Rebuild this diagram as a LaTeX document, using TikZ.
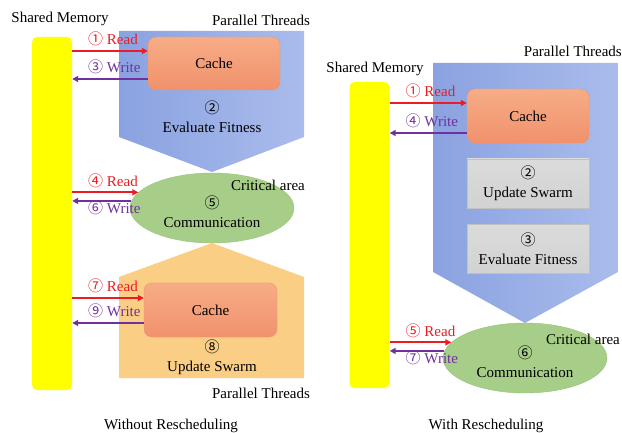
\documentclass[tikz,border=0pt]{standalone}
\usepackage{fontspec}
\setmainfont{Liberation Serif}
\newfontfamily\numfont{Noto Sans CJK SC}
\usetikzlibrary{positioning,shapes.geometric,arrows.meta}
\definecolor{myred}{RGB}{235,28,36}
\definecolor{mypurple}{RGB}{112,48,160}
\definecolor{myyellow}{RGB}{255,255,0}
\definecolor{myblue}{RGB}{138,162,224}
\definecolor{mybluelight}{RGB}{170,188,236}
\definecolor{myorange}{RGB}{250,206,132}
\definecolor{mycache}{RGB}{247,172,135}
\definecolor{mycachedark}{RGB}{240,146,108}
\definecolor{mygreen}{RGB}{166,206,136}
\definecolor{mygreendark}{RGB}{150,195,120}
\definecolor{mygray}{RGB}{210,210,210}
\newcommand{\cn}[1]{{\numfont\fontsize{15}{17}\selectfont #1}}

\tikzset{
  lbl/.style={font=\fontsize{15}{19}\selectfont, align=center, inner sep=0pt},
  memory/.style={fill=myyellow, rounded corners=5pt, minimum width=40pt, inner sep=0pt},
  cache/.style={lbl, rounded corners=8pt, draw=mycachedark, top color=mycache, bottom color=mycachedark, minimum width=132pt, minimum height=53pt},
  task/.style={lbl, draw=mygray!92!black, top color=mygray!80!white, bottom color=mygray, minimum width=122pt, minimum height=49pt},
  comm/.style={ellipse, fill=mygreen, draw=mygreendark, minimum width=164pt, minimum height=70pt, inner sep=0pt},
  rd/.style={myred, line width=2pt, -{Triangle[length=6pt,width=6pt]}},
  wr/.style={mypurple, line width=2pt, {Triangle[length=6pt,width=6pt]}-},
  tagup/.style={lbl, anchor=west, xshift=15pt, yshift=12pt},
  tagdn/.style={lbl, anchor=west, xshift=15pt, yshift=-7pt}
}

\begin{document}
\begin{tikzpicture}[x=1pt, y=-1pt]
  \useasboundingbox (0,0) rectangle (622,433);

  % left: without rescheduling
  \shade[left color=myblue, right color=mybluelight] (119,31) -- (304,31) -- (304,137) -- (212,172) -- (119,137) -- cycle;
  \fill[myorange] (212,243) -- (304,277) -- (304,378) -- (119,378) -- (119,277) -- cycle;
  \node[memory, minimum height=353pt] (mem1) at (52,213.5) {};
  \node[lbl] (sm1) at (60,19) {Shared Memory};
  \node[lbl] (pt1) at (261,20) {Parallel Threads};
  \node[lbl] (pt2) at (261,393) {Parallel Threads};
  \node[cache] (cache1) at (214,63.5) {Cache};
  \node[lbl] (ev1) at (212,117) {\cn{②}\\Evaluate Fitness};
  \node[comm] (comm1) at (212,208) {};
  \node[lbl] (comm1t) at (212,212) {\cn{⑤}\\Communication};
  \node[lbl] (crit1) at (268,185) {Critical area};
  \node[cache, minimum width=133pt, minimum height=54pt] (cache2) at (210.5,310) {Cache};
  \node[lbl] (up1) at (212,357) {\cn{⑧}\\Update Swarm};
  \node[lbl] (title1) at (171,426) {Without Rescheduling};

  \coordinate (r1) at ([yshift=12.5pt]cache1.west);
  \coordinate (w1) at ([yshift=-15.5pt]cache1.west);
  \coordinate (r2) at (comm1.168);
  \coordinate (w2) at (comm1.175);
  \coordinate (r3) at ([yshift=12pt]cache2.west);
  \coordinate (w3) at ([yshift=-13pt]cache2.west);
  \draw[rd] (mem1.east |- r1) node[tagup, myred] {\cn{①} Read} -- (r1);
  \draw[wr] (mem1.east |- w1) node[tagup, mypurple] {\cn{③} Write} -- (w1);
  \draw[rd] (mem1.east |- r2) node[tagup, myred] {\cn{④} Read} -- (r2);
  \draw[wr] (mem1.east |- w2) node[tagdn, mypurple] {\cn{⑥} Write} -- (w2);
  \draw[rd] (mem1.east |- r3) node[tagup, myred] {\cn{⑦} Read} -- (r3);
  \draw[wr] (mem1.east |- w3) node[tagup, mypurple] {\cn{⑨} Write} -- (w3);

  % right: with rescheduling
  \shade[left color=myblue, right color=mybluelight] (433,63) -- (618,63) -- (618,272) -- (525,323) -- (433,272) -- cycle;
  \node[memory, minimum height=306pt] (mem2) at (369.5,235) {};
  \node[lbl] (sm2) at (375,69) {Shared Memory};
  \node[lbl, anchor=east] (pt3) at (622,51) {Parallel Threads};
  \node[cache, minimum width=122pt, minimum height=54pt] (cache3) at (528,116) {Cache};
  \node[task] (up2) at (528,183.5) {\cn{②}\\Update Swarm};
  \node[task] (ev2) at (528,249) {\cn{③}\\Evaluate Fitness};
  \node[comm] (comm2) at (525,358) {};
  \node[lbl] (comm2t) at (525,362) {\cn{⑥}\\Communication};
  \node[lbl] (crit2) at (583,339) {Critical area};
  \node[lbl] (title2) at (486,426) {With Rescheduling};

  \coordinate (r4) at ([yshift=13pt]cache3.west);
  \coordinate (w4) at ([yshift=-17pt]cache3.west);
  \coordinate (r5) at (comm2.168);
  \coordinate (w5) at (comm2.175);
  \draw[rd] (mem2.east |- r4) node[tagup, myred] {\cn{①} Read} -- (r4);
  \draw[wr] (mem2.east |- w4) node[tagup, mypurple] {\cn{④} Write} -- (w4);
  \draw[rd] (mem2.east |- r5) node[tagup, myred] {\cn{⑤} Read} -- (r5);
  \draw[wr] (mem2.east |- w5) node[tagdn, mypurple] {\cn{⑦} Write} -- (w5);
\end{tikzpicture}
\end{document}
